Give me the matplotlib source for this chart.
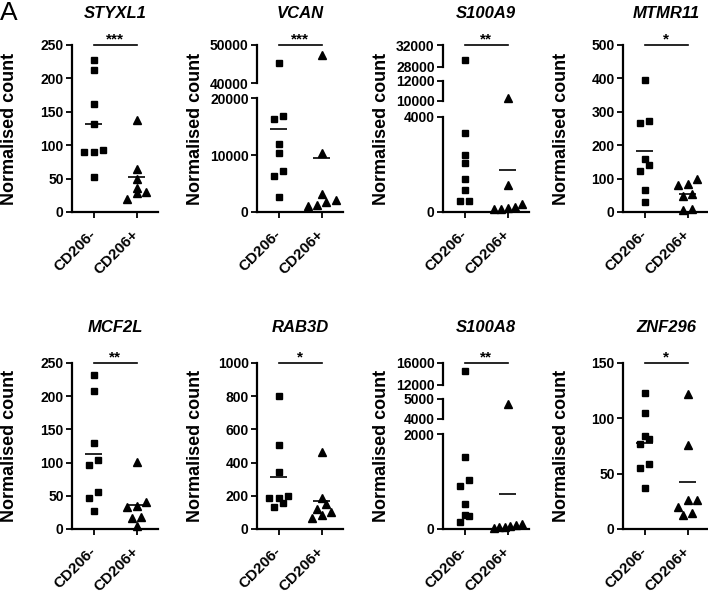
import numpy as np
import matplotlib
matplotlib.use('Agg')
import matplotlib.pyplot as plt

plt.rcParams['font.family'] = ['Liberation Sans', 'DejaVu Sans']

# ---- data ----
genes = ['STYXL1', 'VCAN', 'S100A9', 'MTMR11', 'MCF2L', 'RAB3D', 'S100A8', 'ZNF296']
groups = ['CD206-', 'CD206+']
stars = ['***', '***', '**', '*', '**', '*', '**', '*']

cd206_neg = {
    'STYXL1': [228, 213, 161, 131, 90, 90, 93, 53],
    'VCAN': [45200, 16900, 16300, 11900, 10400, 7200, 6300, 2700],
    'S100A9': [29200, 3340, 2410, 2080, 1400, 910, 460, 460],
    'MTMR11': [396, 271, 265, 160, 140, 123, 66, 29],
    'MCF2L': [232, 208, 129, 104, 97, 55, 47, 27],
    'RAB3D': [801, 508, 343, 199, 189, 189, 159, 133],
    'S100A8': [14460, 1530, 1045, 906, 520, 290, 280, 140],
    'ZNF296': [122.5, 105, 84, 81.5, 77, 59, 54.7, 37.3],
}
cd206_pos = {
    'STYXL1': [138, 64, 49, 36, 30, 28, 20],
    'VCAN': [47400, 10400, 3200, 2070, 1770, 1290, 1000],
    'S100A9': [10330, 1150, 320, 210, 180, 140, 140],
    'MTMR11': [99, 84, 81, 54, 49, 9, 6],
    'MCF2L': [101, 40, 35, 33, 18, 17, 4],
    'RAB3D': [464, 185, 149, 123, 104, 84, 64],
    'S100A8': [4750, 100, 80, 60, 50, 40, 30],
    'ZNF296': [121.6, 76, 26, 26, 20, 12.5, 14.3],
}

# y-axis pieces (lo, hi, ticks); several pieces = broken axis
y_pieces = {
    'STYXL1': [(0, 250, [0, 50, 100, 150, 200, 250])],
    'VCAN': [(0, 20000, [0, 10000, 20000]), (40000, 50000, [40000, 50000])],
    'S100A9': [(0, 4000, [0, 4000]), (10000, 12000, [10000, 12000]),
               (28000, 32000, [28000, 32000])],
    'MTMR11': [(0, 500, [0, 100, 200, 300, 400, 500])],
    'MCF2L': [(0, 250, [0, 50, 100, 150, 200, 250])],
    'RAB3D': [(0, 1000, [0, 200, 400, 600, 800, 1000])],
    'S100A8': [(0, 2000, [0, 2000]), (4000, 5000, [4000, 5000]),
               (12000, 16000, [12000, 16000])],
    'ZNF296': [(0, 150, [0, 50, 100, 150])],
}

# ---- layout (pixels) ----
W, H = 708, 597
col_x = [72, 257, 443, 623]
row_y = [(45, 212), (363, 529)]
title_y = [13, 327]
ax_w = 86
piece_frac = {1: [(0, 1)], 2: [(0, 0.68), (0.77, 1.0)],
              3: [(0, 0.57), (0.665, 0.785), (0.87, 1.0)]}
step_px = 9.5
max_spread = 28.0


def val_to_px(v, pieces, fracs, h):
    for (lo, hi, _), (f0, f1) in zip(pieces, fracs):
        if lo <= v <= hi:
            return (f0 + (v - lo) / (hi - lo) * (f1 - f0)) * h
    return np.nan


def swarm(vals, pieces, fracs, h):
    # group points that sit close vertically and spread them sideways
    ypx = np.array([val_to_px(v, pieces, fracs, h) for v in vals])
    order = np.argsort(ypx, kind='stable')
    offs = np.zeros(len(vals))
    i = 0
    while i < len(order):
        grp = [order[i]]
        j = i + 1
        while j < len(order) and ypx[order[j]] - ypx[order[i]] < 7.0:
            grp.append(order[j])
            j += 1
        n = len(grp)
        st = step_px if n < 2 else min(step_px, max_spread / (n - 1))
        for k, g in enumerate(grp):
            offs[g] = (k - (n - 1) / 2.0) * st
        i = j
    return offs


fig = plt.figure(figsize=(W / 100, H / 100), dpi=100)
fig.text(0 / W, 1 - 13 / H, 'A', fontsize=19, ha='left', va='center')

for gi, gene in enumerate(genes):
    r, c = divmod(gi, 4)
    x0 = col_x[c]
    top, bot = row_y[r]
    h = bot - top
    pieces = y_pieces[gene]
    fracs = piece_frac[len(pieces)]
    px_per_unit = ax_w / 2.0

    series = [(1, cd206_neg[gene], 's', 4.8), (2, cd206_pos[gene], '^', 5.3)]
    offsets = [swarm(v, pieces, fracs, h) / px_per_unit for _, v, _, _ in series]

    axes = []
    for pi, ((lo, hi, ticks), (f0, f1)) in enumerate(zip(pieces, fracs)):
        ax = fig.add_axes([x0 / W, (H - bot + f0 * h) / H, ax_w / W, (f1 - f0) * h / H])
        ax.set_xlim(0.5, 2.5)
        ax.set_ylim(lo, hi)
        ax.patch.set_alpha(0)
        for s in ['top', 'right']:
            ax.spines[s].set_visible(False)
        ax.spines['left'].set_linewidth(1.6)
        ax.spines['bottom'].set_linewidth(1.6)
        ax.set_yticks(ticks)
        ax.set_yticklabels([str(t) for t in ticks], fontsize=10, fontweight='bold')
        ax.tick_params(axis='y', length=4.5, width=1.3, pad=1.5)
        if pi == 0:
            ax.set_xticks([1, 2])
            ax.set_xticklabels(groups, fontsize=11, fontweight='bold', rotation=45,
                               ha='right', va='center', rotation_mode='anchor')
            ax.tick_params(axis='x', length=4.5, width=1.3, pad=10)
        else:
            ax.spines['bottom'].set_visible(False)
            ax.set_xticks([])

        for (xc, vals, mk, ms), off in zip(series, offsets):
            vals = np.asarray(vals, dtype=float)
            keep = (vals >= lo) & (vals <= hi)
            ax.plot(xc + off[keep], vals[keep], linestyle='none', marker=mk,
                    markersize=ms, color='black', clip_on=False)
            m = vals.mean()
            if lo <= m <= hi:
                ax.plot([xc - 0.2, xc + 0.2], [m, m], color='black', lw=1.2,
                        solid_capstyle='butt', clip_on=False)
        axes.append(ax)

    # significance bar on the top piece
    ax = axes[-1]
    hi = pieces[-1][1]
    ax.plot([1, 2], [hi, hi], color='black', lw=1.2, clip_on=False)
    ax.annotate(stars[gi], xy=(1.5, hi), xytext=(0, 1), textcoords='offset points',
                ha='center', va='baseline', fontsize=11, fontweight='bold')

    fig.text((x0 - 62) / W, 1 - (top + bot) / 2 / H, 'Normalised count', rotation=90,
             fontsize=13, fontweight='bold', ha='center', va='center')
    fig.text((x0 + ax_w / 2) / W, 1 - title_y[r] / H, gene, fontsize=12,
             fontweight='bold', fontstyle='italic', ha='center', va='center')

fig.savefig('out.png', dpi=100)
